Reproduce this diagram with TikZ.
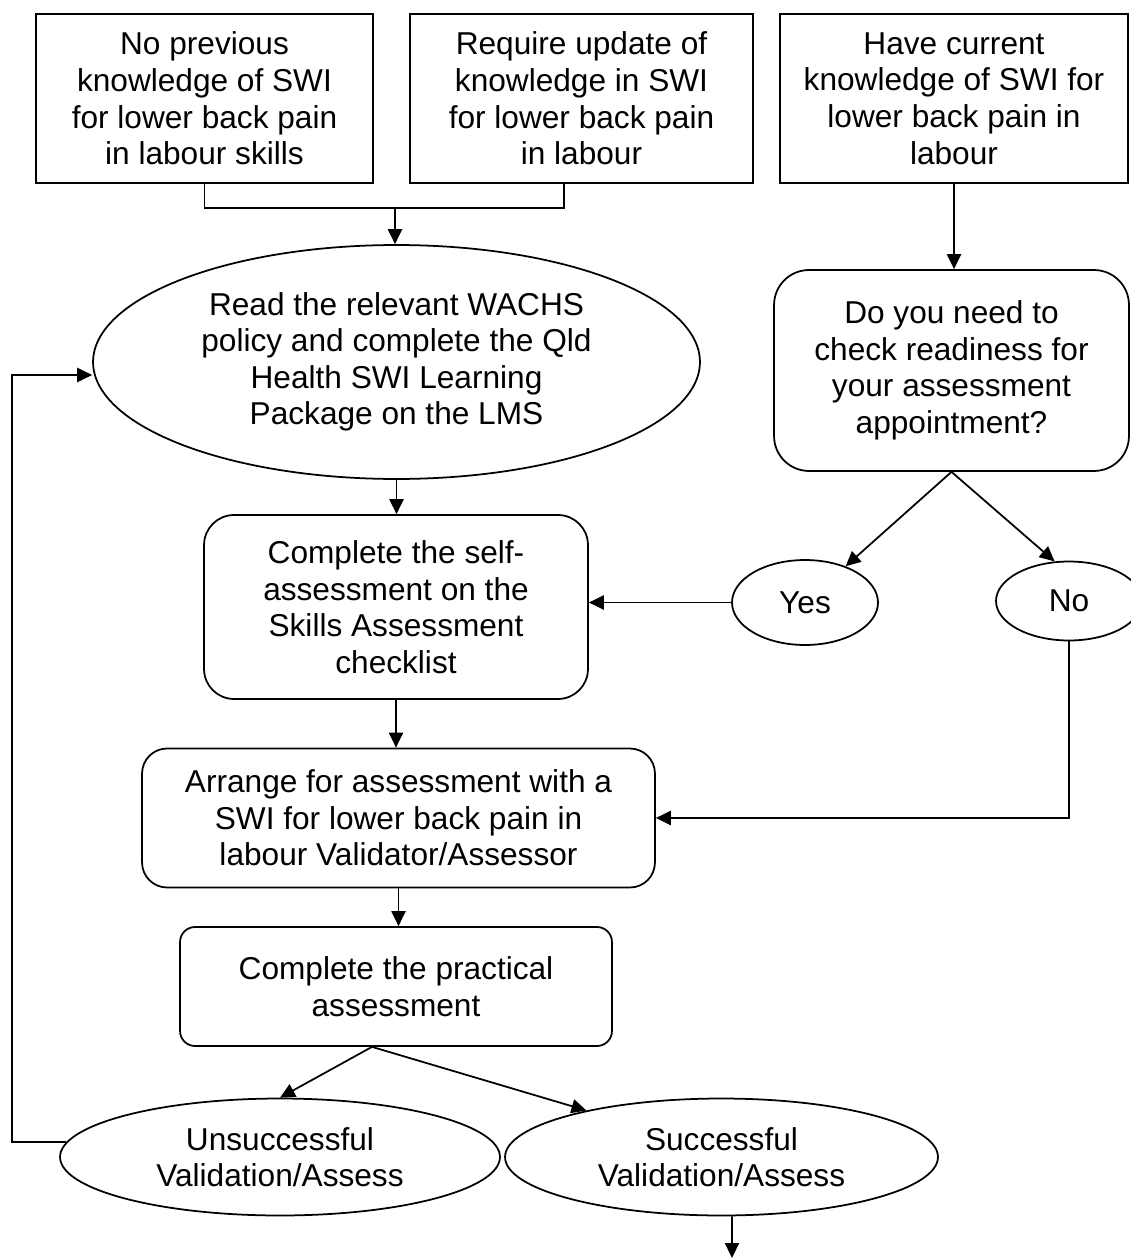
\documentclass[tikz,border=0pt]{standalone}
\usepackage{fontspec}
\setmainfont{Liberation Sans}
\usetikzlibrary{shapes,arrows.meta,positioning,calc}

\begin{document}
\begin{tikzpicture}[
    x=0.02cm, y=-0.02cm,
    font=\fontsize{18}{20.8}\selectfont,
    stepbox/.style={rectangle, draw, line width=1pt, inner sep=0pt, align=center},
    roundbox/.style={stepbox, rounded corners=#1},
    roundbox/.default=0.5cm,
    ovalnode/.style={ellipse, draw, line width=1pt, inner sep=0pt, align=center},
    direction/.style={-{Triangle[length=8.5pt, width=8pt]}, line width=1pt}
]
    \useasboundingbox (0,0) rectangle (1131,1260);

    % Starting situations
    \node[stepbox, minimum width=6.74cm, minimum height=3.38cm] (noprev) at (204.5,98.5)
        {No previous\\knowledge of SWI\\for lower back pain\\in labour skills};
    \node[stepbox, minimum width=6.86cm, minimum height=3.38cm] (requpd) at (581.5,98.5)
        {Require update of\\knowledge in SWI\\for lower back pain\\in labour};
    \node[stepbox, minimum width=6.96cm, minimum height=3.38cm] (havecur) at (954,98.5)
        {Have current\\knowledge of SWI for\\lower back pain in\\labour};

    % Learning path
    \node[ovalnode, inner sep=-0.3cm, minimum width=12.14cm, minimum height=4.68cm] (readpol) at (396.5,362)
        {Read the relevant WACHS\\policy and complete the Qld\\Health SWI Learning\\Package on the LMS};
    \node[roundbox=0.6cm, minimum width=7.68cm, minimum height=3.68cm] (selfass) at (396,607)
        {Complete the self-\\assessment on the\\Skills Assessment\\checklist};
    \node[roundbox=0.5cm, minimum width=10.26cm, minimum height=2.78cm] (arrange) at (398.5,818)
        {Arrange for assessment with a\\SWI for lower back pain in\\labour Validator/Assessor};
    \node[roundbox=0.3cm, minimum width=8.64cm, minimum height=2.38cm] (practical) at (396,986.5)
        {Complete the practical\\assessment};

    % Outcomes
    \node[ovalnode, minimum width=8.8cm, minimum height=2.34cm] (unsucc) at (280,1157)
        {Unsuccessful\\Validation/Assess};
    \node[ovalnode, minimum width=8.66cm, minimum height=2.34cm] (succ) at (721.5,1157)
        {Successful\\Validation/Assess};

    % Readiness check
    \node[roundbox=0.7cm, minimum width=7.1cm, minimum height=4.02cm] (ready) at (951.5,370.5)
        {Do you need to\\check readiness for\\your assessment\\appointment?};
    \node[ovalnode, minimum width=2.92cm, minimum height=1.7cm] (yes) at (805,602.5) {Yes};
    \node[ovalnode, minimum width=2.92cm, minimum height=1.58cm] (no) at (1069,601) {No};

    % Helper points
    \coordinate (merge) at (395,208);
    \coordinate (reqfoot) at (564,208);
    \coordinate (fork) at (372,1046);
    \coordinate (looptop) at (12,375);
    \coordinate (exit) at (732,1258);

    % Connectors
    \draw[line width=1pt] (noprev.south) |- (reqfoot) -- (requpd.south -| reqfoot);
    \draw[direction] (merge) -- (merge |- readpol.north);
    \draw[direction] (havecur.south) -- (havecur.south |- ready.north);
    \draw[direction] (readpol.south) -- (readpol.south |- selfass.north);
    \draw[direction] (selfass.south) -- (selfass.south |- arrange.north);
    \draw[direction] (arrange.south) -- (arrange.south |- practical.north);
    \draw[direction] (ready.south) -- (yes);
    \draw[direction] (ready.south) -- (no.110);
    \draw[direction] (yes.west) -- (yes.west -| selfass.east);
    \draw[direction] (no.south) |- (arrange.east);
    \draw[direction] (practical.south -| fork) -- (unsucc.north);
    \draw[direction] (practical.south -| fork) -- (succ.161);
    \draw[direction] (unsucc.176) -| (looptop) -- (looptop -| readpol.west);
    \draw[direction] (succ.280) -- (exit);
\end{tikzpicture}
\end{document}
